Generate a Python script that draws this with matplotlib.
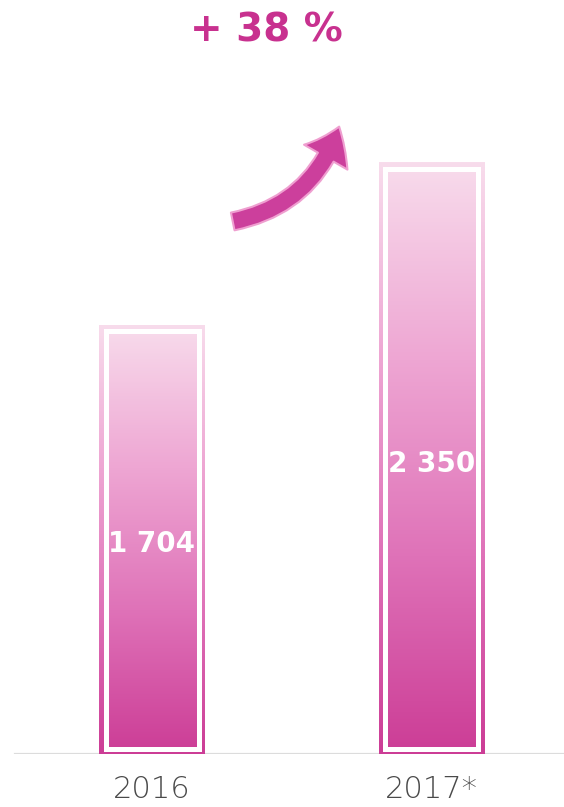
import numpy as np
import matplotlib.pyplot as plt
from matplotlib.colors import LinearSegmentedColormap
from matplotlib.patches import FancyArrowPatch, ArrowStyle

years = ["2016", "2017*"]
values = [1704, 2350]
value_labels = ["1 704", "2 350"]
growth_label = "+ 38 %"

fig = plt.figure(figsize=(5.64, 8.07), dpi=100)
ax = fig.add_axes([0, 53 / 807, 1, 754 / 807])
ax.set_xlim(-152 / 279.5, (564 - 152) / 279.5)
ax.set_ylim(0, 754 / 0.2519)
ax.axis("off")

px_x = 1 / 279.5      # data units per pixel, x
px_y = 1 / 0.2519     # data units per pixel, y

cmap = LinearSegmentedColormap.from_list("pink", ["#f8dcec", "#eea6d3", "#df72b8", "#cc3d96"])
grad = np.linspace(0, 1, 256).reshape(-1, 1)

x = np.arange(len(values))
width = 106 * px_x
bars = ax.bar(x, values, width=width, color="none", edgecolor="none", zorder=2)

for bar in bars:
    bx, by = bar.get_x(), bar.get_y()
    bw, bh = bar.get_width(), bar.get_height()
    im = ax.imshow(grad, cmap=cmap, aspect="auto", origin="upper",
                   extent=[bx, bx + bw, by, by + bh], zorder=2)
    im.set_clip_path(bar)
    # white inner frame
    ins_x = 6.5 * px_x
    ax.add_patch(plt.Rectangle((bx + ins_x, by + 5 * px_y),
                               bw - 2 * ins_x, bh - 6.5 * px_y - 5 * px_y,
                               fill=False, edgecolor="white", linewidth=3.6, zorder=3))

ax.set_xlim(-152 / 279.5, (564 - 152) / 279.5)
ax.set_ylim(0, 754 / 0.2519)

# baseline
ax.axhline(0, xmin=15 / 564, xmax=1, color="#dcdcdc", linewidth=1.6, zorder=1)

for xi, v, lab in zip(x, values, value_labels):
    ax.text(xi, v * 0.49, lab, ha="center", va="center", color="white",
            fontsize=20, fontweight="bold", zorder=4)

for xi, yr in zip(x, years):
    ax.text(xi, -36 * px_y, yr, ha="center", va="center", color="#4a4a4a",
            fontsize=22, fontweight="light", zorder=4)

# growth arrow
start = ((230 - 152) * px_x, (754 - 222) * px_y)
end = ((340 - 152) * px_x, (754 - 124) * px_y)
arrow = FancyArrowPatch(start, end, connectionstyle="arc3,rad=0.3",
                        arrowstyle=ArrowStyle.Simple(head_length=24, head_width=36, tail_width=13),
                        facecolor="#cc3f9c", edgecolor="#ef9fd0", linewidth=1.5, zorder=4)
ax.add_patch(arrow)

fig.text(266 / 564, 1 - 31 / 807, growth_label, ha="center", va="center",
         color="#c8318f", fontsize=28, fontweight="bold")

fig.savefig("out.png", dpi=100)
